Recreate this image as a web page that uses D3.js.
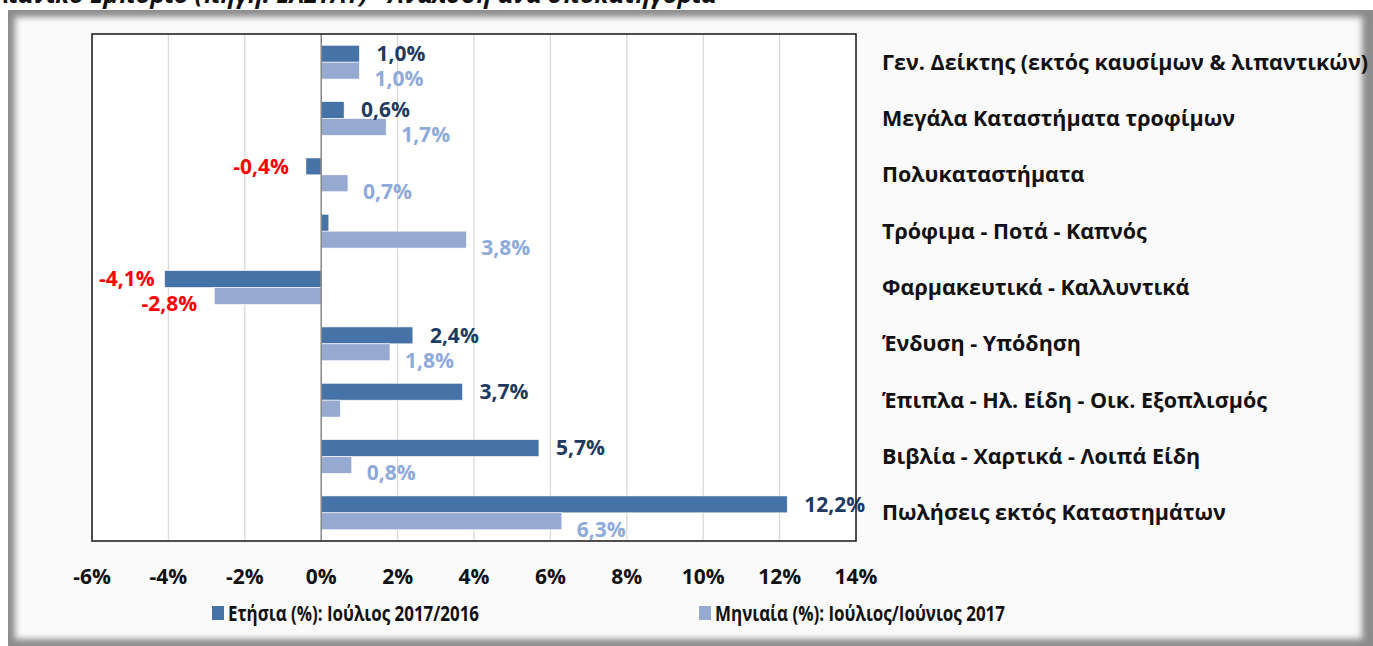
<!DOCTYPE html>
<html>
<head>
<meta charset="utf-8">
<script src="https://cdnjs.cloudflare.com/ajax/libs/d3/7.8.5/d3.min.js"></script>
<style>
  body { margin: 0; background: #ffffff; }
  svg { display: block; font-family: 'Open Sans', 'Noto Sans', sans-serif; }
</style>
</head>
<body>
<svg id="chart" width="1373" height="646"></svg>
<script>
// categories top to bottom
var categories = [
  'Γεν. Δείκτης (εκτός καυσίμων & λιπαντικών)',
  'Μεγάλα Καταστήματα τροφίμων',
  'Πολυκαταστήματα',
  'Τρόφιμα - Ποτά - Καπνός',
  'Φαρμακευτικά - Καλλυντικά',
  'Ένδυση - Υπόδηση',
  'Έπιπλα - Ηλ. Είδη - Οικ. Εξοπλισμός',
  'Βιβλία - Χαρτικά - Λοιπά Είδη',
  'Πωλήσεις εκτός Καταστημάτων'
];
var seriesNames = ['Ετήσια (%): Ιούλιος 2017/2016', 'Μηνιαία (%): Ιούλιος/Ιούνιος 2017'];
var annualValues = [1.0, 0.6, -0.4, 0.2, -4.1, 2.4, 3.7, 5.7, 12.2];
var monthlyValues = [1.0, 1.7, 0.7, 3.8, -2.8, 1.8, 0.5, 0.8, 6.3];
// data labels shown on the chart (empty = no label)
var annualLabels = ['1,0%', '0,6%', '-0,4%', '', '-4,1%', '2,4%', '3,7%', '5,7%', '12,2%'];
var monthlyLabels = ['1,0%', '1,7%', '0,7%', '3,8%', '-2,8%', '1,8%', '', '0,8%', '6,3%'];
var xTicks = [-6, -4, -2, 0, 2, 4, 6, 8, 10, 12, 14];

var svg = d3.select('#chart');
var colors = ['#4673a7', '#95a9d1'];
var labelColors = ['#1f3a60', '#8eaadb'];

// panel with shaded edge
var defs = svg.append('defs');
defs.append('filter').attr('id', 'soft')
  .attr('x', '-5%').attr('y', '-5%').attr('width', '110%').attr('height', '110%')
  .append('feGaussianBlur').attr('stdDeviation', 3.2);
defs.append('clipPath').attr('id', 'panelClip')
  .append('rect').attr('x', 8).attr('y', 10).attr('width', 1365).attr('height', 636);

var panel = svg.append('g').attr('clip-path', 'url(#panelClip)');
panel.append('rect')
  .attr('x', 8).attr('y', 10).attr('width', 1365).attr('height', 636)
  .style('fill', '#8c8c8c');
panel.append('rect')
  .attr('x', 15).attr('y', 17).attr('width', 1347).attr('height', 622)
  .style('fill', '#fafafa')
  .attr('filter', 'url(#soft)');

// cut-off title above the panel
svg.append('text')
  .attr('x', -6).attr('y', 3)
  .attr('textLength', 722).attr('lengthAdjust', 'spacingAndGlyphs')
  .style('font-size', '23px').style('font-weight', 'bold').style('font-style', 'italic')
  .style('fill', '#111')
  .text('Λιανικό Εμπόριο (πηγή: ΕΛΣΤΑΤ) - Ανάλυση ανά υποκατηγορία');

var plot = { l: 92, r: 856, t: 34, b: 541 };

var xScale = d3.scaleLinear().domain([-6, 14]).range([plot.l, plot.r]);
var yScale = d3.scaleBand().domain(categories).range([plot.t, plot.b])
  .paddingInner(0.4).paddingOuter(0.2);
var subScale = d3.scaleBand().domain([0, 1]).range([0, yScale.bandwidth()]);

svg.append('rect')
  .attr('x', plot.l).attr('y', plot.t)
  .attr('width', plot.r - plot.l).attr('height', plot.b - plot.t)
  .style('fill', '#ffffff');

// gridlines
svg.append('g').selectAll('line')
  .data(xTicks.filter(d => d > -6 && d < 14 && d !== 0))
  .enter().append('line')
  .attr('x1', d => xScale(d)).attr('x2', d => xScale(d))
  .attr('y1', plot.t).attr('y2', plot.b)
  .style('stroke', '#d9d9d9').style('stroke-width', 1.3);

var rows = categories.map(function (c, i) {
  return { cat: c, vals: [annualValues[i], monthlyValues[i]], labels: [annualLabels[i], monthlyLabels[i]] };
});

var groups = svg.append('g').selectAll('.cat')
  .data(rows)
  .enter().append('g')
  .attr('class', 'cat')
  .attr('transform', d => 'translate(0,' + yScale(d.cat) + ')');

groups.selectAll('rect')
  .data(d => d.vals)
  .enter().append('rect')
  .attr('x', d => xScale(Math.min(0, d)))
  .attr('width', d => Math.abs(xScale(d) - xScale(0)))
  .attr('y', (d, i) => subScale(i))
  .attr('height', subScale.bandwidth())
  .style('fill', (d, i) => colors[i])
  .style('stroke', '#ffffff').style('stroke-width', 0.6);

// zero line
svg.append('line')
  .attr('x1', xScale(0)).attr('x2', xScale(0))
  .attr('y1', plot.t).attr('y2', plot.b)
  .style('stroke', '#868686').style('stroke-width', 1.5);

// value labels
groups.each(function (row) {
  var g = d3.select(this);
  row.vals.forEach(function (v, i) {
    if (!row.labels[i]) return;
    var neg = v < 0;
    var gap = neg ? (i === 0 && v < -3 ? 10 : 17) : (i === 0 ? 17 : 15);
    var dy = i === 0 ? 0 : 8;
    g.append('text')
      .attr('x', xScale(v) + (neg ? -gap : gap))
      .attr('y', subScale(i) + subScale.bandwidth() / 2 + dy)
      .attr('dy', '0.35em')
      .style('text-anchor', neg ? 'end' : 'start')
      .style('font-size', '21px').style('font-weight', 'bold')
      .style('fill', neg ? '#ff0000' : labelColors[i])
      .text(row.labels[i]);
  });
});

// plot frame
svg.append('rect')
  .attr('x', plot.l).attr('y', plot.t)
  .attr('width', plot.r - plot.l).attr('height', plot.b - plot.t)
  .style('fill', 'none').style('stroke', '#222').style('stroke-width', 1.6);

// x axis tick labels
svg.append('g').selectAll('text')
  .data(xTicks)
  .enter().append('text')
  .attr('x', d => xScale(d))
  .attr('y', 577)
  .attr('dy', '0.35em')
  .style('text-anchor', 'middle')
  .style('font-size', '21px').style('font-weight', 'bold').style('fill', '#111')
  .text(d => d + '%');

// category labels on the right
svg.append('g').selectAll('text')
  .data(categories)
  .enter().append('text')
  .attr('x', 882)
  .attr('y', d => yScale(d) + yScale.bandwidth() / 2)
  .attr('dy', '0.35em')
  .style('font-size', '21.5px').style('font-weight', 'bold').style('fill', '#111')
  .text(d => d);

// legend
var legendX = [212, 699];
var legendW = [251, 290];
var legend = svg.append('g').selectAll('g')
  .data(seriesNames)
  .enter().append('g')
  .attr('transform', (d, i) => 'translate(' + legendX[i] + ',613)');
legend.append('rect')
  .attr('x', 0).attr('y', -7).attr('width', 12).attr('height', 14)
  .style('fill', (d, i) => colors[i]);
legend.append('text')
  .attr('x', 16).attr('dy', '0.35em')
  .attr('textLength', (d, i) => legendW[i]).attr('lengthAdjust', 'spacingAndGlyphs')
  .style('font-size', '22px').style('font-weight', 'bold').style('fill', '#111')
  .text(d => d);
</script>
</body>
</html>
